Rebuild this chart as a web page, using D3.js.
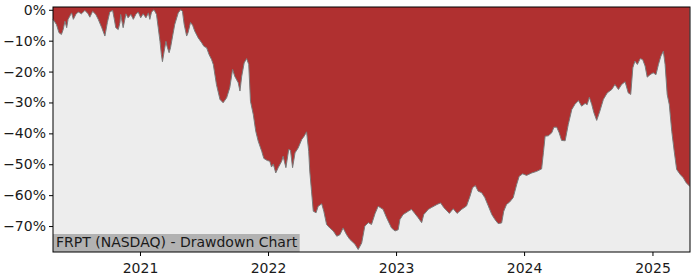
<!DOCTYPE html>
<html>
<head>
<meta charset="utf-8">
<script src="https://cdn.jsdelivr.net/npm/d3@7"></script>
<style>
  body { margin: 0; background: #fff; }
  svg text { font-family: "DejaVu Sans", sans-serif; }
</style>
</head>
<body>
<div id="chart"></div>
<script>
// drawdown in %
var dates = [
  "2020-04-28","2020-05-08","2020-05-15","2020-05-22","2020-05-27","2020-06-01","2020-06-06","2020-06-10",
  "2020-06-20","2020-06-25","2020-07-02","2020-07-09","2020-07-18","2020-07-28","2020-08-06","2020-08-11",
  "2020-08-19","2020-08-28","2020-09-04","2020-09-14","2020-09-23","2020-09-30","2020-10-07","2020-10-15",
  "2020-10-19","2020-10-24","2020-10-31","2020-11-05","2020-11-07","2020-11-14","2020-11-22","2020-11-28",
  "2020-12-06","2020-12-13","2020-12-20","2020-12-27","2021-01-03","2021-01-10","2021-01-18","2021-01-25",
  "2021-01-29","2021-02-03","2021-02-10","2021-02-17","2021-02-22","2021-02-27","2021-03-03","2021-03-06",
  "2021-03-11","2021-03-16","2021-03-19","2021-03-25","2021-03-29","2021-04-04","2021-04-10","2021-04-20",
  "2021-04-27","2021-05-02","2021-05-07","2021-05-14","2021-05-18","2021-05-25","2021-05-31","2021-06-06",
  "2021-06-16","2021-06-26","2021-07-02","2021-07-10","2021-07-17","2021-07-24","2021-07-29",
  "2021-08-07","2021-08-17","2021-08-26","2021-09-05","2021-09-14","2021-09-22","2021-09-28","2021-10-08",
  "2021-10-13","2021-10-18","2021-10-25","2021-11-01","2021-11-07","2021-11-12","2021-11-20","2021-11-27",
  "2021-12-04","2021-12-14","2021-12-20","2021-12-30","2022-01-06","2022-01-11","2022-01-16","2022-01-23",
  "2022-01-30","2022-02-09","2022-02-13","2022-02-21","2022-03-01","2022-03-06","2022-03-12","2022-03-19",
  "2022-03-28","2022-04-07","2022-04-14","2022-04-21","2022-04-27","2022-04-30","2022-05-05","2022-05-10",
  "2022-05-18","2022-05-24","2022-06-03","2022-06-09","2022-06-17","2022-06-26","2022-07-06","2022-07-16",
  "2022-07-25","2022-08-03","2022-08-13","2022-08-22","2022-09-06","2022-09-15","2022-09-25","2022-10-04",
  "2022-10-14","2022-10-23","2022-11-02",
  "2022-11-11","2022-11-25","2022-12-05","2022-12-19","2022-12-29","2023-01-07","2023-01-12","2023-01-21",
  "2023-02-05","2023-02-14","2023-02-24","2023-03-05","2023-03-15","2023-03-21","2023-04-03","2023-04-12",
  "2023-04-28","2023-05-08","2023-05-17","2023-06-02","2023-06-13","2023-06-24","2023-07-07","2023-07-21",
  "2023-07-31","2023-08-07","2023-08-15","2023-08-23","2023-09-02","2023-09-11","2023-09-21","2023-10-01",
  "2023-10-10","2023-10-19","2023-10-29","2023-11-04","2023-11-12","2023-11-21","2023-12-01","2023-12-11",
  "2023-12-18","2023-12-28","2024-01-08","2024-01-23","2024-02-06","2024-02-20","2024-02-25","2024-03-01",
  "2024-03-10","2024-03-20","2024-03-26","2024-04-03","2024-04-10","2024-04-17","2024-04-27","2024-05-06",
  "2024-05-16","2024-05-25","2024-06-04","2024-06-13","2024-06-23","2024-06-29","2024-07-05","2024-07-12",
  "2024-07-18","2024-07-26","2024-08-04","2024-08-14","2024-08-25","2024-09-07","2024-09-16","2024-09-26",
  "2024-10-05","2024-10-15","2024-10-24","2024-10-31","2024-11-06","2024-11-12","2024-11-19","2024-11-27",
  "2024-12-04","2024-12-11","2024-12-17","2024-12-25","2025-01-03","2025-01-11","2025-01-18","2025-01-25",
  "2025-02-01","2025-02-06","2025-02-12","2025-02-18","2025-02-25","2025-03-04","2025-03-11","2025-03-21",
  "2025-03-30","2025-04-07","2025-04-17"
];
var drawdown = [
  -3.1,-4.8,-7.4,-8.0,-6.4,-3.7,-5.8,-3.1,
  -1.0,-3.1,-1.5,-0.7,-1.3,-0.2,-1.3,-2.4,
  -0.5,-1.5,-3.1,-5.8,-8.5,-4.1,-0.7,-0.2,
  -2.6,-5.8,-6.4,-4.1,-1.5,-5.8,-1.3,-2.6,
  -1.5,-3.1,-1.5,-0.7,-2.6,-1.3,-2.6,-1.0,
  -3.1,-0.7,0,-1.5,-5.8,-10.2,-14.5,-16.8,
  -13.4,-10.2,-11.8,-13.9,-12.3,-8.5,-4.8,-1.0,
  0,-0.5,-4.8,-8.5,-7.4,-4.1,-5.0,-6.9,
  -9.1,-10.7,-11.8,-12.3,-14.5,-16.1,-17.7,
  -24.2,-29.0,-30.1,-28.5,-25.2,-19.3,-21.5,-23.6,
  -26.3,-21.5,-17.2,-15.8,-17.7,-29.6,-33.9,-39.3,
  -42.5,-45.8,-48.1,-48.8,-49.0,-50.9,-49.9,-52.8,
  -51.1,-49.0,-47.4,-51.1,-45.2,-45.5,-51.1,-46.3,
  -44.7,-42.0,-40.9,-39.5,-45.8,-52.2,-58.7,-65.2,
  -65.7,-63.6,-62.8,-65.2,-69.5,-70.6,-71.6,-73.3,
  -72.8,-70.6,-72.8,-74.3,-75.9,-77.6,-75.5,-70.0,
  -68.9,-69.5,-66.0,
  -63.6,-64.6,-67.3,-70.6,-71.6,-71.2,-67.9,-66.3,
  -65.2,-64.6,-66.0,-67.3,-68.9,-66.3,-64.6,-64.0,
  -63.0,-62.5,-64.0,-65.9,-64.4,-65.9,-64.6,-63.5,
  -60.3,-57.6,-56.9,-58.7,-59.2,-60.8,-63.5,-66.3,
  -67.9,-69.2,-69.0,-65.2,-63.0,-62.2,-60.8,-56.5,
  -53.9,-53.1,-53.6,-52.8,-52.3,-51.5,-46.3,-40.9,
  -40.8,-39.8,-38.0,-38.0,-39.8,-42.3,-42.4,-37.1,
  -32.3,-30.6,-29.4,-31.2,-30.3,-30.7,-28.3,-30.7,
  -33.3,-35.8,-32.8,-29.0,-26.9,-25.8,-24.2,-25.8,
  -24.2,-23.3,-26.9,-27.4,-18.8,-16.6,-17.7,-15.8,
  -16.1,-18.2,-21.8,-21.0,-20.4,-21.0,-17.7,-15.0,
  -13.4,-17.7,-27.4,-30.7,-39.3,-45.8,-51.7,-53.3,
  -54.4,-56.0,-57.1
];
var yTicks = [0, -10, -20, -30, -40, -50, -60, -70];
var xTickYears = [2021, 2022, 2023, 2024, 2025];
var title = "FRPT (NASDAQ) - Drawdown Chart";

var width = 700, height = 280;
var margin = {top: 7, right: 10, bottom: 28, left: 53};
var parse = d3.timeParse("%Y-%m-%d");
var points = dates.map(function (d, i) { return {date: parse(d), value: drawdown[i]}; });

var x = d3.scaleTime()
    .domain([parse("2020-04-28"), parse("2025-04-18")])
    .range([margin.left, width - margin.right]);
var y = d3.scaleLinear()
    .domain([-78.4, 0.9])
    .range([height - margin.bottom, margin.top]);

var svg = d3.select("#chart").append("svg")
    .attr("width", width)
    .attr("height", height);

svg.append("rect")
    .attr("x", margin.left).attr("y", margin.top)
    .attr("width", width - margin.left - margin.right)
    .attr("height", height - margin.top - margin.bottom)
    .attr("fill", "#ededed");

var area = d3.area()
    .x(function (d) { return x(d.date); })
    .y0(margin.top)
    .y1(function (d) { return y(d.value); });

svg.append("path")
    .datum(points)
    .attr("fill", "#b03030")
    .attr("d", area);

svg.append("path")
    .datum(points)
    .attr("fill", "none")
    .attr("stroke", "#7a7a7a")
    .attr("stroke-width", 1)
    .attr("d", d3.line().x(function (d) { return x(d.date); }).y(function (d) { return y(d.value); }));

// label box at bottom left
var label = svg.append("g");
var labelText = label.append("text")
    .attr("x", margin.left + 3)
    .attr("y", height - margin.bottom - 5)
    .attr("font-size", "14px")
    .attr("fill", "#1a1a1a")
    .text(title);
var bb = labelText.node().getBBox();
label.insert("rect", "text")
    .attr("x", margin.left)
    .attr("y", 234)
    .attr("width", bb.width + 5)
    .attr("height", height - margin.bottom - 234)
    .attr("fill", "#b2b2b2");

var yAxis = d3.axisLeft(y)
    .tickValues(yTicks)
    .tickSize(4)
    .tickFormat(function (d) { return d === 0 ? "0%" : "\u2212" + Math.abs(d) + "%"; });
var xAxis = d3.axisBottom(x)
    .tickValues(xTickYears.map(function (yr) { return new Date(yr, 0, 1); }))
    .tickSize(4)
    .tickFormat(d3.timeFormat("%Y"));

var gy = svg.append("g")
    .attr("transform", "translate(" + margin.left + ",0)")
    .call(yAxis);
var gx = svg.append("g")
    .attr("transform", "translate(0," + (height - margin.bottom) + ")")
    .call(xAxis);

[gx, gy].forEach(function (g) {
    g.select(".domain").remove();
    g.selectAll("text").attr("font-size", "14px").attr("fill", "#1a1a1a")
        .style("font-family", "DejaVu Sans, sans-serif");
    g.selectAll("line").attr("stroke", "#000");
});
gx.selectAll("text").attr("dy", "1.0em");

// frame
svg.append("rect")
    .attr("x", margin.left).attr("y", margin.top)
    .attr("width", width - margin.left - margin.right)
    .attr("height", height - margin.top - margin.bottom)
    .attr("fill", "none")
    .attr("stroke", "#000")
    .attr("stroke-width", 1);
</script>
</body>
</html>
